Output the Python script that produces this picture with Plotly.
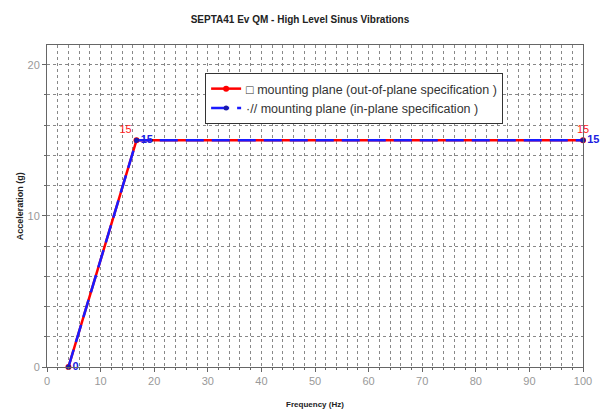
import plotly.graph_objects as go

freq_out = [4, 16.7, 100]
acc_out = [0, 15, 15]
freq_in = [4, 16.7, 100]
acc_in = [0, 15, 15]
label_out = ["", "15", "15"]
label_in = ["0", "15", "15"]
title = "SEPTA41 Ev QM - High Level Sinus Vibrations"
name_out = "□ mounting plane (out-of-plane specification )"
name_in = "·// mounting plane (in-plane specification )"
x_title = "Frequency (Hz)"
y_title = "Acceleration (g)"

fig = go.Figure()
fig.add_trace(go.Scatter(
    x=freq_out, y=acc_out, name=name_out, mode="lines+markers+text",
    line=dict(color="#ff0000", width=2.5),
    marker=dict(color="#ff0000", size=6),
    text=label_out, textposition=["top left", "top left", "top center"],
    textfont=dict(color="#ff2020", size=11, family="Arial"),
    cliponaxis=False,
))
fig.add_trace(go.Scatter(
    x=freq_in, y=acc_in, name=name_in, mode="lines+markers+text",
    line=dict(color="#1a1aff", width=2.5, dash="18px,8px"),
    marker=dict(color="#1a1aaa", size=5),
    text=label_in, texttemplate="<b>%{text}</b>", textposition="middle right",
    textfont=dict(color="#2020e0", size=11, family="Arial"),
    cliponaxis=False,
))

grid = dict(showgrid=True, gridcolor="#888888", griddash="dot", gridwidth=1)
fig.update_layout(
    width=600, height=412,
    margin=dict(l=47, r=17, t=45, b=45),
    paper_bgcolor="white", plot_bgcolor="white",
    title=dict(text="<b>" + title + "</b>", x=0.5, xanchor="center", y=0.962,
               font=dict(size=10, family="Arial", color="#222222")),
    font=dict(family="Arial", color="#666666"),
    showlegend=True,
    legend=dict(x=0.295, y=0.913, xanchor="left", yanchor="top",
                bordercolor="#333333", borderwidth=1, bgcolor="white",
                font=dict(size=12.5, color="#333333"), tracegroupgap=0),
    xaxis=dict(range=[0, 100], dtick=10, **grid, automargin=False,
               ticks="outside", ticklen=4, tickcolor="#666666",
               showline=True, linecolor="#666666", mirror=True, zeroline=False,
               tickfont=dict(size=11, color="#999999"),
               minor=dict(dtick=2, showgrid=True, gridcolor="#888888", griddash="dot",
                          ticks="outside", ticklen=2, tickcolor="#666666"),
               title=dict(text="<b>" + x_title + "</b>", font=dict(size=8, color="#222222"))),
    yaxis=dict(range=[0, 21.3], dtick=10, **grid, automargin=False,
               ticks="outside", ticklen=4, tickcolor="#666666",
               showline=True, linecolor="#666666", mirror=True, zeroline=False,
               tickfont=dict(size=11, color="#999999"),
               minor=dict(dtick=2, showgrid=True, gridcolor="#888888", griddash="dot",
                          ticks="outside", ticklen=2, tickcolor="#666666")),
)
fig.add_annotation(text="<b>" + y_title + "</b>", xref="paper", yref="paper",
                   x=-0.05, y=0.5, textangle=-90, showarrow=False,
                   xanchor="center", yanchor="middle",
                   font=dict(size=9, family="Arial", color="#222222"))
fig.write_html("out.html", post_script="document.body.style.margin='0px';",
               config={"displayModeBar": False})
